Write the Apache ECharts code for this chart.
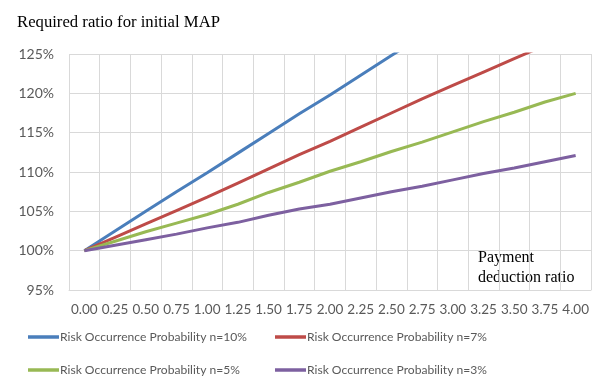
<!DOCTYPE html>
<html>
<head>
<meta charset="utf-8">
<script src="https://cdn.jsdelivr.net/npm/echarts@6/dist/echarts.min.js"></script>
<style>
  html, body { margin: 0; padding: 0; background: #fff; }
  #chart { width: 595px; height: 378px; }
</style>
</head>
<body>
<div id="chart"></div>
<script>
// Payment deduction ratio (x axis categories)
const categories = ['0.00','0.25','0.50','0.75','1.00','1.25','1.50','1.75','2.00',
                    '2.25','2.50','2.75','3.00','3.25','3.50','3.75','4.00'];

// Required ratio for initial MAP, in percent
const n10 = [100, 102.5, 105.0, 107.5, 109.9, 112.4, 114.9, 117.4, 119.8, 122.3, 124.8, 127.3, 129.8, 132.3, 134.7, 137.2, 139.7];
const n7  = [100, 101.7, 103.4, 105.1, 106.8, 108.6, 110.4, 112.2, 113.9, 115.7, 117.5, 119.3, 121.0, 122.7, 124.4, 126.1, 127.8];
const n5  = [100, 101.2, 102.4, 103.5, 104.6, 105.9, 107.4, 108.7, 110.1, 111.3, 112.6, 113.8, 115.1, 116.4, 117.6, 118.9, 120.0];
const n3  = [100, 100.7, 101.4, 102.1, 102.9, 103.6, 104.5, 105.3, 105.9, 106.7, 107.5, 108.2, 109.0, 109.8, 110.5, 111.3, 112.1];

const seriesNames = [
  'Risk Occurrence Probability n=10%',
  'Risk Occurrence Probability n=7%',
  'Risk Occurrence Probability n=5%',
  'Risk Occurrence Probability n=3%'
];
const seriesData = [n10, n7, n5, n3];
const colors = ['#4A7EBB', '#BE4B48', '#98B954', '#7D60A0'];

const uiFont = 'Lato';
const serifFont = 'Liberation Serif';

const legendPos = [
  { left: 28, top: 331 },
  { left: 275, top: 331 },
  { left: 28, top: 364 },
  { left: 275, top: 364 }
];

const chart = echarts.init(document.getElementById('chart'), null, { renderer: 'canvas' });

chart.setOption({
  animation: false,
  backgroundColor: '#ffffff',
  color: colors,
  title: [
    {
      text: 'Required ratio for initial MAP',
      left: 12, top: 9,
      textStyle: { fontFamily: serifFont, fontSize: 16.7, fontWeight: 'normal', color: '#000' }
    }
  ],
  graphic: [
    {
      type: 'text', left: 478, top: 248,
      style: {
        text: 'Payment\ndeduction ratio',
        font: '16px "Liberation Serif"',
        fill: '#000',
        lineHeight: 20
      }
    }
  ],
  legend: seriesNames.map((name, i) => ({
    data: [name],
    left: legendPos[i].left,
    top: legendPos[i].top,
    icon: 'rect',
    itemWidth: 31,
    itemHeight: 3.5,
    itemGap: 0,
    padding: 0,
    textStyle: { fontFamily: uiFont, fontSize: 12.1, color: '#595959', padding: [0, 0, 0, -4] }
  })),
  grid: { left: 69, right: 4, top: 54, bottom: 88 },
  xAxis: {
    type: 'category',
    data: categories,
    boundaryGap: true,
    axisLine: { show: true, lineStyle: { color: '#D9D9D9', width: 1 } },
    axisTick: { show: false },
    splitLine: { show: true, lineStyle: { color: '#D9D9D9', width: 1 } },
    axisLabel: {
      interval: 0, margin: 13,
      fontFamily: uiFont, fontSize: 13.5, color: '#595959'
    }
  },
  yAxis: {
    type: 'value',
    min: 95, max: 125, interval: 5,
    axisLine: { show: false },
    axisTick: { show: false },
    splitLine: { lineStyle: { color: '#D9D9D9', width: 1 } },
    axisLabel: {
      margin: 15,
      formatter: v => v + '%',
      fontFamily: uiFont, fontSize: 14, color: '#595959'
    }
  },
  series: seriesNames.map((name, i) => ({
    name: name,
    type: 'line',
    data: seriesData[i],
    clip: true,
    showSymbol: false,
    symbol: 'none',
    lineStyle: { width: 3, color: colors[i] },
    itemStyle: { color: colors[i] }
  }))
});
</script>
</body>
</html>
